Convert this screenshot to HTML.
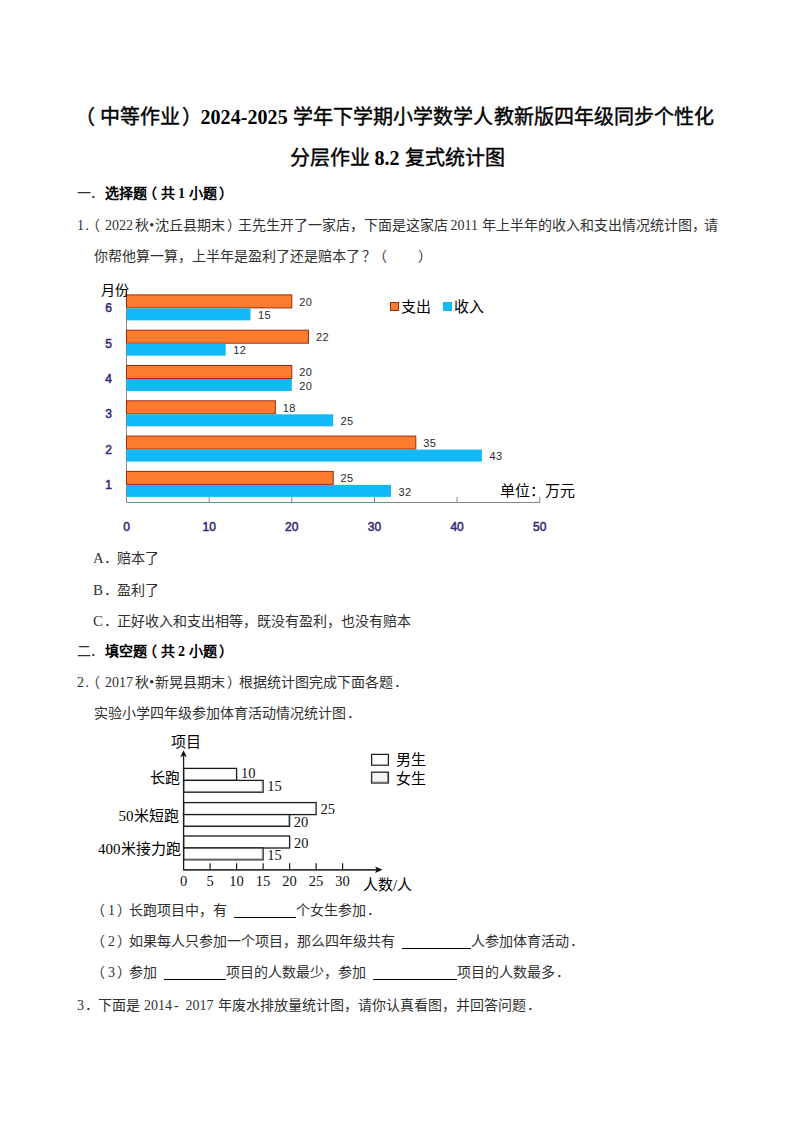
<!DOCTYPE html>
<html lang="zh-CN"><head><meta charset="utf-8">
<style>
html,body{margin:0;padding:0;background:#fff;}
body{width:794px;height:1123px;position:relative;overflow:hidden;font-family:"Liberation Serif",serif;color:#000;}
.t{position:absolute;white-space:pre;font-size:14px;line-height:14px;font-weight:300;color:#303030;}
.t b,.ttl{color:#000;}
.t b{font-weight:700;}
.ttl{font-size:20px;line-height:20px;font-weight:500;-webkit-text-stroke:0.4px #000;}
.ttl b{-webkit-text-stroke:0;}
.u{display:inline-block;border-bottom:1px solid #000;height:12px;vertical-align:-3.5px;}
.hd{display:inline-block;width:7px;text-indent:1.5px;}
.fd{position:relative;left:1px;}
.sp{display:inline-block;height:1px;}
.cl{display:inline-block;text-align:center;}
.bu{display:inline-block;width:6.5px;text-align:center;}
.lp{position:relative;left:-1.5px;}
.lpc{position:relative;left:-5px;}
.lp35{position:relative;left:-2px;}
.lp4{position:relative;left:-2.5px;}
.qm{position:relative;left:2px;}
.hdot{position:relative;left:-2.5px;}
.rp3{position:relative;left:1px;}
.rp{position:relative;left:2px;}
svg{position:absolute;left:0;top:0;}
.dl{font-family:"Liberation Sans",sans-serif;font-size:11px;fill:#2a2a2a;letter-spacing:0.4px;}
.ml{font-family:"Liberation Sans",sans-serif;font-size:12px;fill:#35267a;stroke:#35267a;stroke-width:0.5;text-anchor:middle;}
.c2l{font-family:"Liberation Serif",serif;font-size:14.5px;fill:#111;}
.c2t{font-family:"Liberation Serif",serif;font-size:14.5px;fill:#111;text-anchor:middle;}
.ct{position:absolute;white-space:pre;font-family:"Liberation Sans",sans-serif;font-size:14px;line-height:14px;font-weight:300;}
.st{position:absolute;white-space:pre;font-family:"Liberation Serif",serif;font-size:15px;line-height:15px;font-weight:300;}
.sq{position:absolute;width:7px;height:7px;}
</style></head><body>
<div class="t ttl" id="l1" style="top:107px;left:80px;letter-spacing:0.07px;"><span style="position:relative;left:-3.5px"><span class="lp">（</span></span>中等作业<span class="rp">）</span><b>2024-2025 </b>学年下学期小学数学人教新版四年级同步个性化</div>
<div class="t ttl" id="l2" style="top:148px;left:0;width:794px;text-align:center;">分层作业<b> 8.2 </b>复式统计图</div>
<div class="t" id="l3" style="top:187px;left:77px;"><span style="font-weight:400">一<span class="hdot"><span class="fd">．</span></span></span><b>选择题<span class="lp4"><span class="lp">（</span></span>共<span class="sp" style="width:3px"></span>1<span class="sp" style="width:4px"></span>小题<span class="rp">）</span></b></div>
<div class="t" id="l4" style="top:219px;left:77px;">1<span class="hd">.</span><span class="lpc">（</span>2022<span class="sp" style="width:1.5px"></span>秋<span class="bu">•</span>沈丘县期末<span style="margin-right:-1.5px"><span class="rp">）</span></span>王先生开了一家店，下面是这家店<span class="sp" style="width:3px"></span>2011<span class="sp" style="width:4px"></span>年上半年的收入和支出情况统计图<span style="margin-right:-2px">，</span>请</div>
<div class="t" id="l5" style="top:249.5px;left:94px;">你帮他算一算，上半年是盈利了还是赔本了<span class="qm">？</span><span class="lp">（</span>　　<span class="rp">）</span></div>
<div class="t" id="l6" style="top:551px;left:93px;"><span class="cl" style="width:9.5px"><span style="font-size:15px">A</span></span><span class="fd">．</span>赔本了</div>
<div class="t" id="l7" style="top:582.5px;left:93px;"><span class="cl" style="width:9.5px"><span style="font-size:15px">B</span></span><span class="fd">．</span>盈利了</div>
<div class="t" id="l8" style="top:614px;left:93px;"><span class="cl" style="width:9.5px"><span style="font-size:15px">C</span></span><span class="fd">．</span>正好收入和支出相等，既没有盈利，也没有赔本</div>
<div class="t" id="l9" style="top:645px;left:77px;"><span style="font-weight:400">二<span class="hdot"><span class="fd">．</span></span></span><b>填空题<span class="lp4"><span class="lp">（</span></span>共<span class="sp" style="width:3px"></span>2<span class="sp" style="width:4px"></span>小题<span class="rp">）</span></b></div>
<div class="t" id="l10" style="top:676px;left:77px;">2<span class="hd">.</span><span class="lpc">（</span>2017<span class="sp" style="width:1.5px"></span>秋<span class="bu">•</span>新晃县期末<span class="rp">）</span>根据统计图完成下面各题<span class="fd">．</span></div>
<div class="t" id="l11" style="top:707px;left:94px;">实验小学四年级参加体育活动情况统计图<span class="fd">．</span></div>
<div class="t" id="l12" style="top:903.5px;left:94px;"><span class="lp35"><span class="lp">（</span></span>1<span class="rp">）</span>长跑项目中，有<span class="sp" style="width:7px"></span><span class="u" style="width:62px"></span>个女生参加<span class="fd">．</span></div>
<div class="t" id="l13" style="top:934.5px;left:94px;"><span class="lp35"><span class="lp">（</span></span>2<span class="rp">）</span>如果每人只参加一个项目，那么四年级共有<span class="sp" style="width:7px"></span><span class="u" style="width:69px"></span>人参加体育活动<span class="fd">．</span></div>
<div class="t" id="l14" style="top:965.5px;left:94px;"><span class="lp35"><span class="lp">（</span></span>3<span class="rp">）</span>参加<span class="sp" style="width:7px"></span><span class="u" style="width:62px"></span>项目的人数最少，参加<span class="sp" style="width:7px"></span><span class="u" style="width:84px"></span>项目的人数最多<span class="fd">．</span></div>
<div class="t" id="l15" style="top:999px;left:77px;">3<span class="fd">．</span>下面是<span class="sp" style="width:4px"></span>2014<span class="cl" style="width:13.5px"><span style="position:relative;left:-2.5px">-</span></span>2017<span class="sp" style="width:4px"></span>年废水排放量统计图，请你认真看图，并回答问题<span class="fd">．</span></div>
<svg id="c1" width="794" height="1123" viewBox="0 0 794 1123">
<path d="M126.5 290V502.5H540" fill="none" stroke="#868686" stroke-width="1"/>
<path d="M209.2 497V502" stroke="#868686" stroke-width="1"/>
<path d="M291.8 497V502" stroke="#868686" stroke-width="1"/>
<path d="M374.5 497V502" stroke="#868686" stroke-width="1"/>
<path d="M457.1 497V502" stroke="#868686" stroke-width="1"/>
<path d="M539.8 497V502" stroke="#868686" stroke-width="1"/>
<rect x="126.5" y="294.9" width="165.3" height="13" fill="#FC7B2C" stroke="#9A2C0A" stroke-width="1"/>
<rect x="126.5" y="308.4" width="124.0" height="12" fill="#12B9F8"/>
<text x="299.3" y="305.7" class="dl">20</text>
<text x="258.0" y="319.0" class="dl">15</text>
<text x="108.5" y="312.4" class="ml">6</text>
<rect x="126.5" y="330.2" width="181.9" height="13" fill="#FC7B2C" stroke="#9A2C0A" stroke-width="1"/>
<rect x="126.5" y="343.7" width="99.2" height="12" fill="#12B9F8"/>
<text x="315.9" y="341.0" class="dl">22</text>
<text x="233.2" y="354.3" class="dl">12</text>
<text x="108.5" y="347.7" class="ml">5</text>
<rect x="126.5" y="365.5" width="165.3" height="13" fill="#FC7B2C" stroke="#9A2C0A" stroke-width="1"/>
<rect x="126.5" y="379.0" width="165.3" height="12" fill="#12B9F8"/>
<text x="299.3" y="376.3" class="dl">20</text>
<text x="299.3" y="389.6" class="dl">20</text>
<text x="108.5" y="383.0" class="ml">4</text>
<rect x="126.5" y="400.8" width="148.8" height="13" fill="#FC7B2C" stroke="#9A2C0A" stroke-width="1"/>
<rect x="126.5" y="414.3" width="206.7" height="12" fill="#12B9F8"/>
<text x="282.8" y="411.6" class="dl">18</text>
<text x="340.6" y="424.9" class="dl">25</text>
<text x="108.5" y="418.3" class="ml">3</text>
<rect x="126.5" y="436.1" width="289.3" height="13" fill="#FC7B2C" stroke="#9A2C0A" stroke-width="1"/>
<rect x="126.5" y="449.6" width="355.4" height="12" fill="#12B9F8"/>
<text x="423.3" y="446.9" class="dl">35</text>
<text x="489.4" y="460.2" class="dl">43</text>
<text x="108.5" y="453.6" class="ml">2</text>
<rect x="126.5" y="471.4" width="206.7" height="13" fill="#FC7B2C" stroke="#9A2C0A" stroke-width="1"/>
<rect x="126.5" y="484.9" width="264.5" height="12" fill="#12B9F8"/>
<text x="340.6" y="482.2" class="dl">25</text>
<text x="398.5" y="495.5" class="dl">32</text>
<text x="108.5" y="488.9" class="ml">1</text>
<text x="126.5" y="530.5" class="ml">0</text>
<text x="209.2" y="530.5" class="ml">10</text>
<text x="291.8" y="530.5" class="ml">20</text>
<text x="374.5" y="530.5" class="ml">30</text>
<text x="457.1" y="530.5" class="ml">40</text>
<text x="539.8" y="530.5" class="ml">50</text>
</svg>
<svg id="c2" width="794" height="1123" viewBox="0 0 794 1123">
<rect x="183.6" y="768.4" width="53.0" height="12" fill="#fff" stroke="#1a1a1a" stroke-width="1.3"/>
<rect x="183.6" y="780.4" width="79.5" height="11.8" fill="#fff" stroke="#1a1a1a" stroke-width="1.3"/>
<path d="M262.3 781.1999999999999V791.4H184.6" fill="none" stroke="#8a8a8a" stroke-width="1"/>
<text x="241.1" y="778.0" class="c2l">10</text>
<text x="267.3" y="791.0" class="c2l">15</text>
<rect x="183.6" y="802.6" width="132.5" height="12" fill="#fff" stroke="#1a1a1a" stroke-width="1.3"/>
<rect x="183.6" y="814.6" width="106.0" height="11.8" fill="#fff" stroke="#1a1a1a" stroke-width="1.3"/>
<path d="M288.8 815.4V825.6H184.6" fill="none" stroke="#8a8a8a" stroke-width="1"/>
<text x="320.6" y="814.2" class="c2l">25</text>
<text x="293.8" y="826.7" class="c2l">20</text>
<rect x="183.6" y="836.0" width="106.0" height="12" fill="#fff" stroke="#1a1a1a" stroke-width="1.3"/>
<rect x="183.6" y="848.0" width="79.5" height="11.8" fill="#fff" stroke="#1a1a1a" stroke-width="1.3"/>
<path d="M262.3 848.8V859.0H184.6" fill="none" stroke="#8a8a8a" stroke-width="1"/>
<text x="294.1" y="847.6" class="c2l">20</text>
<text x="267.3" y="859.9" class="c2l">15</text>
<path d="M183.6 755V869.5" fill="none" stroke="#1a1a1a" stroke-width="1.3"/>
<path d="M183.0 869.8H377" fill="none" stroke="#333" stroke-width="1.7"/>
<path d="M183.6 750.2L186.8 757.2L183.6 755.6L180.2 757.2Z" fill="#111"/>
<path d="M382.6 869.8L375.1 866.6L376.6 869.8L375.1 873.0Z" fill="#111"/>
<path d="M210.1 863.3V869.5" stroke="#1a1a1a" stroke-width="1.2"/>
<path d="M236.6 863.3V869.5" stroke="#1a1a1a" stroke-width="1.2"/>
<path d="M263.1 863.3V869.5" stroke="#1a1a1a" stroke-width="1.2"/>
<path d="M289.6 863.3V869.5" stroke="#1a1a1a" stroke-width="1.2"/>
<path d="M316.1 863.3V869.5" stroke="#1a1a1a" stroke-width="1.2"/>
<path d="M342.6 863.3V869.5" stroke="#1a1a1a" stroke-width="1.2"/>
<text x="183.6" y="885.5" class="c2t">0</text>
<text x="210.1" y="885.5" class="c2t">5</text>
<text x="236.6" y="885.5" class="c2t">10</text>
<text x="263.1" y="885.5" class="c2t">15</text>
<text x="289.6" y="885.5" class="c2t">20</text>
<text x="316.1" y="885.5" class="c2t">25</text>
<text x="342.6" y="885.5" class="c2t">30</text>
<rect x="371.6" y="754.4" width="16.8" height="10.8" fill="#fff" stroke="#1a1a1a" stroke-width="1.2"/>
<rect x="371.6" y="772.2" width="16.8" height="10.8" fill="#f4f4f4" stroke="#333" stroke-width="1.4"/>
<path d="M387.6 773V782.2H372.4" fill="none" stroke="#777" stroke-width="1"/>
</svg>
<div class="ct" id="yl1" style="left:101px;top:283px">月份</div>
<div class="sq" style="left:390px;top:302px;background:#FC7B2C;border:1px solid #A02A0A;"></div>
<div class="ct" id="lg1" style="left:400.5px;top:299px;font-size:15px;line-height:15px">支出</div>
<div class="sq" style="left:443px;top:302px;background:#12B9F8;border:1px solid #12B9F8;"></div>
<div class="ct" id="lg2" style="left:453.5px;top:299px;font-size:15px;line-height:15px">收入</div>
<div class="ct" id="un1" style="left:500px;top:482.5px;font-size:15px;line-height:15px">单位：万元</div>
<div class="st" id="xm" style="left:171px;top:735px">项目</div>
<div class="st" id="cat1" style="left:149.5px;top:771px">长跑</div>
<div class="st" id="cat2" style="left:118.5px;top:808.5px">50米短跑</div>
<div class="st" id="cat3" style="left:98px;top:842px">400米接力跑</div>
<div class="st" id="lgm" style="left:396px;top:753px">男生</div>
<div class="st" id="lgf" style="left:396px;top:772px">女生</div>
<div class="st" id="xn" style="left:363px;top:878px">人数/人</div>
</body></html>
